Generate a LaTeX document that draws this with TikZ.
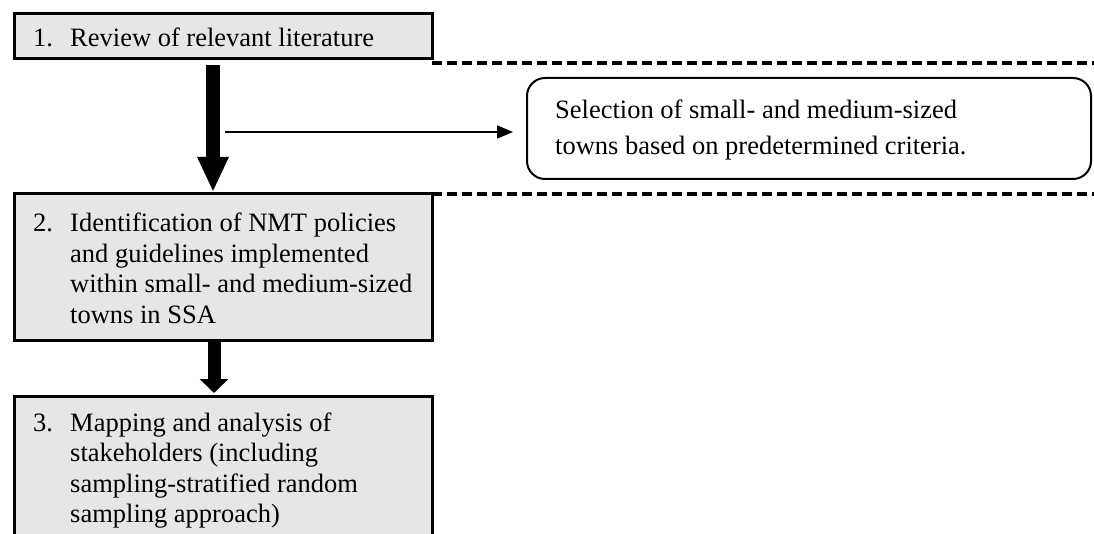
\documentclass[tikz,border=0pt]{standalone}
\usepackage{fontspec}
\setmainfont{Liberation Serif}
\usetikzlibrary{arrows.meta,calc}
\definecolor{boxfill}{RGB}{231,230,230}
\begin{document}
\begin{tikzpicture}[x=1pt,y=-1pt,
  stepbox/.style={draw=black,fill=boxfill,line width=3pt,rectangle,inner sep=0pt,outer sep=0pt,minimum width=418pt,anchor=north west},
  selbox/.style={draw=black,line width=2pt,rounded corners=18pt,rectangle,inner sep=0pt,outer sep=0pt,minimum width=564pt,minimum height=101pt,anchor=north west},
  boxtext/.style={inner sep=0pt,anchor=base west,font=\fontsize{26.5}{30.5}\selectfont},
  seltext/.style={inner sep=0pt,anchor=base west,font=\fontsize{26.5}{36}\selectfont},
  divider/.style={line width=3.5pt,dash pattern=on 10pt off 5pt},
  bigarrow/.style={line width=14pt,-{Triangle[length=35pt,width=29pt]}},
  bigarrowb/.style={line width=13pt,-{Triangle[length=14pt,width=28pt]}},
  thinarrow/.style={line width=1.5pt,-{Triangle[length=16pt,width=13pt]}}
]
\useasboundingbox (0,0) rectangle (1094,534);
% boxes
\node[stepbox,minimum height=45pt] (b1) at (14,14) {};
\node[stepbox,minimum height=146pt] (b2) at (14,194) {};
\node[stepbox,minimum height=170pt] (b3) at (14,396) {};
\node[selbox] (sel) at (527,78) {};
% texts
\node[boxtext] (t1) at (33,47) {\begin{tabular}[t]{@{}p{37pt}@{}l@{}}1. & Review of relevant literature\end{tabular}};
\node[boxtext] (t2) at (33,232) {\begin{tabular}[t]{@{}p{37pt}@{}l@{}}2. & Identification of NMT policies\\ & and guidelines implemented\\ & within small- and medium-sized\\ & towns in SSA\end{tabular}};
\node[boxtext] (t3) at (33,431) {\begin{tabular}[t]{@{}p{37pt}@{}l@{}}3. & Mapping and analysis of\\ & stakeholders (including\\ & sampling-stratified random\\ & sampling approach)\end{tabular}};
\node[seltext] (ts) at (555,119) {\begin{tabular}[t]{@{}l@{}}Selection of small- and medium-sized\\ towns based on predetermined criteria.\end{tabular}};
% dashed dividers
\coordinate (e1) at (1094,63);
\coordinate (e2) at (1094,194);
\draw[divider] (b1.south east |- e1) -- (e1);
\draw[divider] (b2.north east |- e2) -- (e2);
% arrows
\coordinate (ax) at (213,0);
\coordinate (bx) at (214,0);
\draw[bigarrow,shorten <=6pt,shorten >=2pt] (b1.south -| ax) -- (b2.north -| ax);
\draw[bigarrowb,shorten <=1pt,shorten >=3pt] (b2.south -| bx) -- (b3.north -| bx);
\coordinate (s) at (225,132);
\draw[thinarrow,shorten >=14pt] (s) -- (s -| sel.west);
\end{tikzpicture}
\end{document}
